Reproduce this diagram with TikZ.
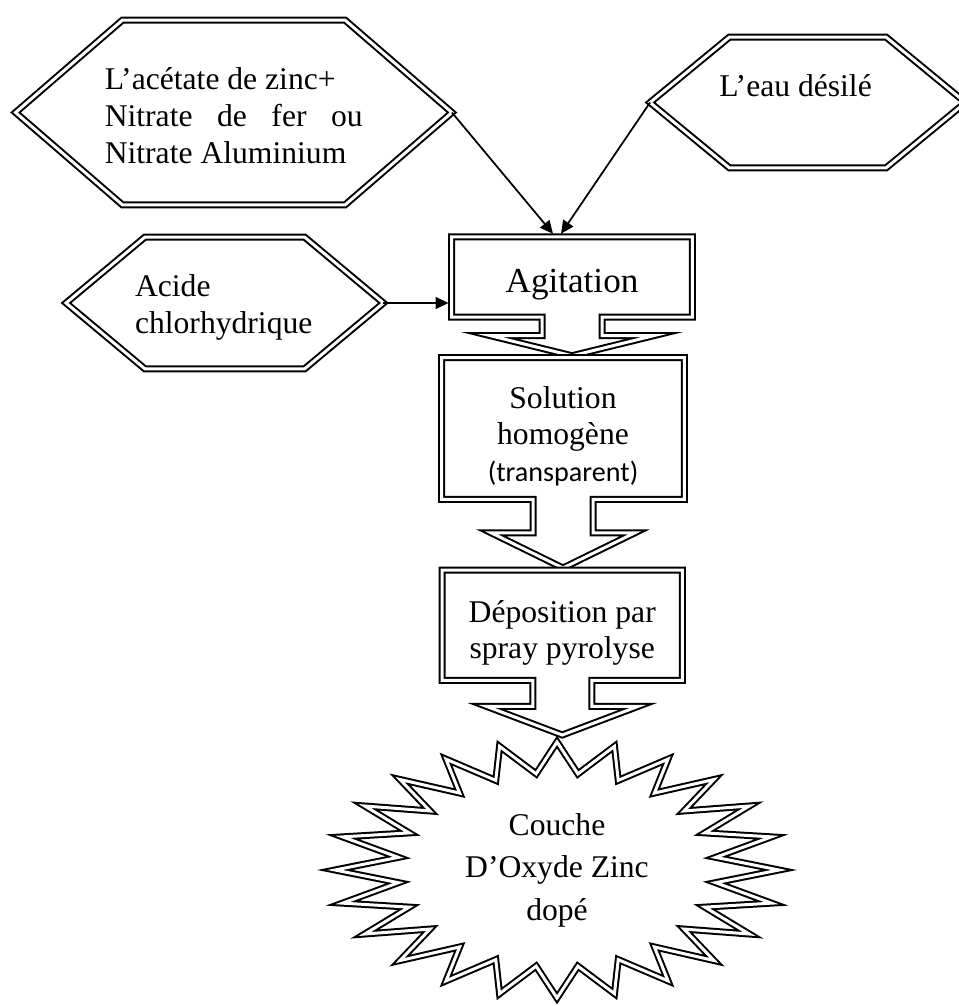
\documentclass[tikz,border=0pt]{standalone}
\usepackage{fontspec}
\setmainfont{Liberation Serif}
\newfontfamily\calibri{Carlito}
\usetikzlibrary{calc,arrows.meta}

\begin{document}
\begin{tikzpicture}[x=0.02cm, y=-0.02cm,
		dbl/.style={draw, double, line width=0.04cm, double distance=0.06cm},
		txt/.style={inner sep=0pt, outer sep=0pt, font=\fontsize{18}{21}\selectfont, text height=0.5cm},
		link/.style={line width=0.035cm, -{Triangle[length=0.26cm, width=0.24cm]}}]
			\useasboundingbox (0,0) rectangle (958,1006);

			\node[txt, minimum width=8.73cm, minimum height=3.7cm, text width=5.16cm, text depth=1.4cm, align=flush left] (acetate) at (233.75,112.5)
				{L’acétate de zinc+\\ Nitrate\hfill de\hfill fer\hfill ou\\ Nitrate Aluminium};
			\node[txt, minimum width=6.31cm, minimum height=2.62cm, text width=3.54cm, text depth=0.72cm, align=flush left] (eau) at (807.75,102.5)
				{L’eau désilé};
			\node[txt, minimum width=6.35cm, minimum height=2.64cm, text width=3.59cm, text depth=0.75cm, align=flush left] (acide) at (224.75,303)
				{Acide\\ chlorhydrique};

			\node[txt, minimum width=4.82cm, minimum height=1.61cm, text height=0.64cm, text depth=0cm, font=\fontsize{20}{24}\selectfont] (agit) at (572,277)
				{Agitation};
			\node[txt, minimum width=4.86cm, minimum height=2.84cm, text width=4.5cm, text depth=1.32cm, align=flush center] (sol) at (563,428.5)
				{Solution\\ homogène\\ {\calibri\fontsize{16}{19}\selectfont (transparent)}};
			\node[txt, minimum width=4.81cm, minimum height=2.21cm, text width=4.5cm, text depth=0.63cm, align=flush center] (dep) at (562.25,625.25)
				{Déposition par\\ spray pyrolyse};

			\coordinate (burst) at (557,870);
			\node[txt, text width=4cm, text depth=1.9cm, align=flush center, font=\fontsize{18}{24.2}\selectfont] (couche) at (burst)
				{Couche\\ D’Oxyde Zinc\\ dopé};

			\foreach \n/\d in {acetate/107, eau/79.5, acide/79}
			{
				\draw[dbl] (\n.west) -- ($(\n.north west)+(\d,0)$) -- ($(\n.north east)+(-\d,0)$) -- (\n.east)
					-- ($(\n.south east)+(-\d,0)$) -- ($(\n.south west)+(\d,0)$) -- cycle;
			}

			\foreach \n/\s/\h/\w/\t in {agit/30/18.5/81.5/38.5, sol/30/33.5/71.5/68.5, dep/29.5/26/75.5/54.5}
			{
				\draw[dbl] (\n.south east) -- (\n.north east) -- (\n.north west) -- (\n.south west)
					-- ($(\n.south)+(-\s,0)$) -- ($(\n.south)+(-\s,\h)$) -- ($(\n.south)+(-\w,\h)$)
					-- ($(\n.south)+(0,\t)$) -- ($(\n.south)+(\w,\h)$) -- ($(\n.south)+(\s,\h)$)
					-- ($(\n.south)+(\s,0)$) -- cycle;
			}

			\draw[dbl, shift={(burst)}] (0:222 and 128)
				\foreach \a in {0,15,...,330} { -- (\a+7.5:160 and 97) -- (\a+15:222 and 128) }
				-- (352.5:160 and 97) -- cycle;

			\draw[link] (acetate.east) -- ($(agit.north)+(-19,-3)$);
			\draw[link] (eau.west) -- ($(agit.north)+(-11,-3)$);
			\draw[link] (acide.east) -- ($(acide.east -| agit.west)+(-3,0)$);
\end{tikzpicture}
\end{document}
